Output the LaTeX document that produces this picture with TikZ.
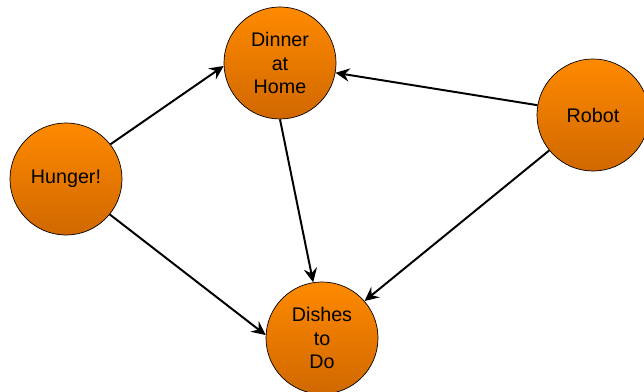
\documentclass[tikz,border=0pt]{standalone}
\usepackage{fontspec}
\setmainfont{Liberation Sans}
\usepackage{tikz}
\usetikzlibrary{arrows.meta}
\definecolor{ballTop}{RGB}{255,138,0}
\definecolor{ballBottom}{RGB}{208,104,0}

\begin{document}
\begin{tikzpicture}[x=0.025cm,y=-0.025cm,
            bubble/.style={circle,draw=black,line width=0.5pt,top color=ballTop,bottom color=ballBottom,
              minimum size=2.8cm,inner sep=0pt,align=center,font=\fontsize{14}{17}\selectfont},
            link/.style={line width=1.4pt,-{Stealth[length=10pt,width=9.5pt,inset=3.5pt]}}]
            \useasboundingbox (0,0) rectangle (644,392);
            \node[bubble] (hunger) at (66,179) {Hunger!};
            \node[bubble] (dinner) at (280,63) {Dinner\\at\\Home};
            \node[bubble] (dishes) at (322,338) {Dishes\\to\\Do};
            \node[bubble] (robot) at (593,115) {Robot};
            \draw[link] (hunger.38)--(dinner.183);
            \draw[link] (hunger.-39)--(dishes.177);
            \draw[link] (dinner.-90)--(dishes.99);
            \draw[link] (robot.170)--(dinner.-10);
            \draw[link] (robot.219)--(dishes.41);
        \end{tikzpicture}
\end{document}
